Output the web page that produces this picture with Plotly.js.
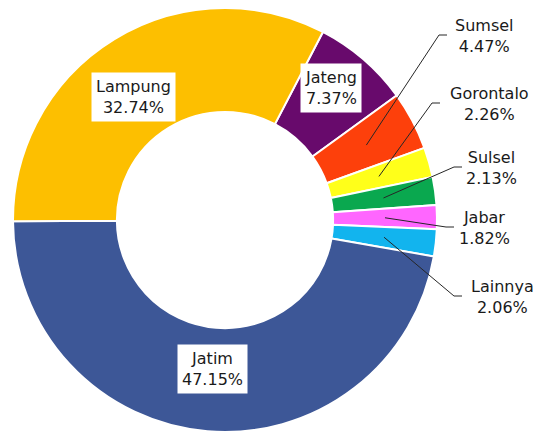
<!DOCTYPE html>
<html>
<head>
<meta charset="utf-8">
<script src="https://cdn.plot.ly/plotly-3.0.1.min.js"></script>
<style>html,body{margin:0;padding:0;background:#fff;}#chart{width:538px;height:435px;}</style>
</head>
<body>
<div id="chart"></div>
<script>
// Data (clockwise from Jateng)
const regions = ["Jateng", "Sumsel", "Gorontalo", "Sulsel", "Jabar", "Lainnya", "Jatim", "Lampung"];
const shares = [7.37, 4.47, 2.26, 2.13, 1.82, 2.06, 47.15, 32.74];
const colors = ["#680a6c", "#fd400b", "#ffff1a", "#0aa84f", "#ff66ff", "#12b4ee", "#3d5797", "#fdbf00"];
const insideLabels = ["Jateng", "Jatim", "Lampung"];

// Layout placement (pixels in the 538x435 figure)
const W = 538, H = 435;
const cx = 225, cy = 220, R = 212;
const rotation = 27.5;
// [text centre x, text centre y, leader elbow x]
const labelPos = {
  "Lampung": [133, 97], "Jateng": [331, 88], "Jatim": [212, 369],
  "Sumsel": [484, 36, 439], "Gorontalo": [489, 104, 432], "Sulsel": [492, 168, 454],
  "Jabar": [484, 228, 446], "Lainnya": [502, 297, 454]
};
const tipRadius = 160;
const tickLen = 8;

const total = shares.reduce((a, b) => a + b, 0);
let cum = 0;
const annotations = [];
const shapes = [];
const px = (x) => x / W, py = (y) => 1 - y / H;
regions.forEach((name, i) => {
  const mid = rotation + 360 * (cum + shares[i] / 2) / total;
  cum += shares[i];
  const a = mid * Math.PI / 180;
  const txt = name + "<br>" + shares[i].toFixed(2) + "%";
  const pos = labelPos[name];
  const inside = insideLabels.includes(name);
  annotations.push({
    x: px(pos[0]), y: py(pos[1]), xref: "paper", yref: "paper",
    xanchor: "center", yanchor: "middle",
    text: txt, showarrow: false,
    bgcolor: inside ? "#ffffff" : "rgba(0,0,0,0)", borderpad: 4,
    font: {family: "DejaVu Sans", size: 16, color: "#1a1a1a"}, align: "center"
  });
  if (!inside) {
    const tx = cx + tipRadius * Math.sin(a);
    const ty = cy - tipRadius * Math.cos(a);
    const ex = pos[2], ey = pos[1] - 1;
    const lineStyle = {color: "#262626", width: 1};
    shapes.push({type: "line", xref: "paper", yref: "paper",
      x0: px(tx), y0: py(ty), x1: px(ex), y1: py(ey), line: lineStyle});
    shapes.push({type: "line", xref: "paper", yref: "paper",
      x0: px(ex), y0: py(ey), x1: px(ex + tickLen), y1: py(ey), line: lineStyle});
  }
});

const trace = {
  type: "pie",
  labels: regions,
  values: shares,
  sort: false,
  direction: "clockwise",
  rotation: rotation,
  hole: 0.51,
  textinfo: "none",
  marker: {colors: colors, line: {color: "#ffffff", width: 2}},
  domain: {x: [(cx - R) / W, (cx + R) / W], y: [1 - (cy + R) / H, 1 - (cy - R) / H]},
  showlegend: false,
  hoverinfo: "label+percent"
};

const layout = {
  width: W, height: H,
  margin: {l: 0, r: 0, t: 0, b: 0},
  paper_bgcolor: "#ffffff",
  showlegend: false,
  annotations: annotations,
  shapes: shapes
};

Plotly.newPlot("chart", [trace], layout, {displayModeBar: false, staticPlot: true});
</script>
</body>
</html>
